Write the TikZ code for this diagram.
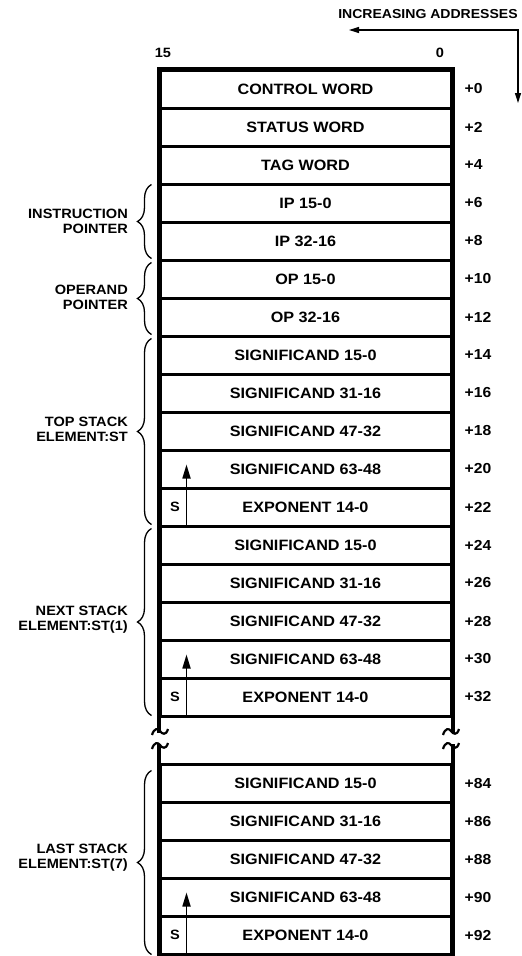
\documentclass[tikz,border=0pt]{standalone}
\usepackage{fontspec}
\setmainfont{Liberation Sans}[FakeStretch=1.08]
\usetikzlibrary{
  arrows.meta,
  decorations.pathreplacing
}

\begin{document}
\begin{tikzpicture}[
    x=1pt, y=-1pt,
    >={Triangle[length=10pt,width=6pt]},
    font=\bfseries\fontsize{13.5}{15}\selectfont,
    row/.style={draw, line width=3pt, minimum width=291pt,
      minimum height=38pt, inner sep=0pt,
      font=\bfseries\fontsize{15}{17}\selectfont},
    offs/.style={anchor=west, inner sep=0pt,
      font=\bfseries\fontsize{14.5}{17}\selectfont},
    lbl/.style={anchor=east, align=right, inner sep=0pt},
    frame/.style={line width=4pt},
    cut/.style={line width=2.2pt},
    brc/.style={decorate, decoration={brace, amplitude=14pt},
      line width=1.3pt},
    sarr/.style={line width=1.7pt,
      -{Triangle[length=14pt,width=8pt]}}
    ]

    \useasboundingbox (0,0) rectangle (522,956);

    % direction
    \node (inc) at (428,14) {\fontsize{13}{15}\selectfont INCREASING ADDRESSES};
    \coordinate (lt) at (349,30);
    \coordinate (corner) at (518,30);
    \coordinate (dn) at (518,103);
    \draw[line width=1.3pt, <->] (lt) -- (corner) -- (dn);

    % bit numbers
    \node (b15) at (163,53) {15};
    \node (b0) at (440,53) {0};

    % header words
    \node[row] (cw) at (305.5,89) {CONTROL WORD};
    \node[row] (sw) at (305.5,127) {STATUS WORD};
    \node[row] (tw) at (305.5,165) {TAG WORD};
    \node[row] (ip1) at (305.5,203) {IP 15-0};
    \node[row] (ip2) at (305.5,241) {IP 32-16};
    \node[row] (op1) at (305.5,279) {OP 15-0};
    \node[row] (op2) at (305.5,317) {OP 32-16};

    % top stack element
    \node[row] (a1) at (305.5,355) {SIGNIFICAND 15-0};
    \node[row] (a2) at (305.5,393) {SIGNIFICAND 31-16};
    \node[row] (a3) at (305.5,431) {SIGNIFICAND 47-32};
    \node[row] (a4) at (305.5,469) {SIGNIFICAND 63-48};
    \node[row] (a5) at (305.5,507) {EXPONENT 14-0};

    % next stack element
    \node[row] (b1) at (305.5,545) {SIGNIFICAND 15-0};
    \node[row] (b2) at (305.5,583) {SIGNIFICAND 31-16};
    \node[row] (b3) at (305.5,621) {SIGNIFICAND 47-32};
    \node[row] (b4) at (305.5,659) {SIGNIFICAND 63-48};
    \node[row] (b5) at (305.5,697) {EXPONENT 14-0};

    % last stack element
    \node[row] (c1) at (305.5,783) {SIGNIFICAND 15-0};
    \node[row] (c2) at (305.5,821) {SIGNIFICAND 31-16};
    \node[row] (c3) at (305.5,859) {SIGNIFICAND 47-32};
    \node[row] (c4) at (305.5,897) {SIGNIFICAND 63-48};
    \node[row] (c5) at (305.5,935) {EXPONENT 14-0};

    % outline
    \draw[frame] ([yshift=-15pt]b5.south west) -- (cw.north west)
      -- (cw.north east) -- ([yshift=-15pt]b5.south east);
    \draw[frame] ([yshift=19pt]c1.north west) -- (c5.south west)
      -- (c5.south east) -- ([yshift=19pt]c1.north east);

    % break marks
    \draw[cut] (152,735) .. controls (154,728) and (158,728) .. (160,731)
      .. controls (162,734) and (166,736) .. (168,729);
    \draw[cut] (152,749) .. controls (154,742) and (158,742) .. (160,745)
      .. controls (162,748) and (166,750) .. (168,743);
    \draw[cut] (443,735) .. controls (445,728) and (449,728) .. (451,731)
      .. controls (453,734) and (457,736) .. (459,729);
    \draw[cut] (443,749) .. controls (445,742) and (449,742) .. (451,745)
      .. controls (453,748) and (457,750) .. (459,743);

    % sign bits
    \node (sa) at (175,507) {S};
    \node (sb) at (175,697) {S};
    \node (sc) at (175,935) {S};
    \draw[sarr] ([xshift=28pt]a5.south west) -- ([shift={(28pt,-16pt)}]a4.north west);
    \draw[sarr] ([xshift=28pt]b5.south west) -- ([shift={(28pt,-16pt)}]b4.north west);
    \draw[sarr] ([xshift=28pt]c5.south west) -- ([shift={(28pt,-16pt)}]c4.north west);

    % offsets
    \node[offs] (o0) at ([xshift=12pt]cw.east) {+0};
    \node[offs] (o2) at ([xshift=12pt]sw.east) {+2};
    \node[offs] (o4) at ([xshift=12pt]tw.east) {+4};
    \node[offs] (o6) at ([xshift=12pt]ip1.east) {+6};
    \node[offs] (o8) at ([xshift=12pt]ip2.east) {+8};
    \node[offs] (o10) at ([xshift=12pt]op1.east) {+10};
    \node[offs] (o12) at ([xshift=12pt]op2.east) {+12};
    \node[offs] (o14) at ([xshift=12pt]a1.east) {+14};
    \node[offs] (o16) at ([xshift=12pt]a2.east) {+16};
    \node[offs] (o18) at ([xshift=12pt]a3.east) {+18};
    \node[offs] (o20) at ([xshift=12pt]a4.east) {+20};
    \node[offs] (o22) at ([xshift=12pt]a5.east) {+22};
    \node[offs] (o24) at ([xshift=12pt]b1.east) {+24};
    \node[offs] (o26) at ([xshift=12pt]b2.east) {+26};
    \node[offs] (o28) at ([xshift=12pt]b3.east) {+28};
    \node[offs] (o30) at ([xshift=12pt]b4.east) {+30};
    \node[offs] (o32) at ([xshift=12pt]b5.east) {+32};
    \node[offs] (o84) at ([xshift=12pt]c1.east) {+84};
    \node[offs] (o86) at ([xshift=12pt]c2.east) {+86};
    \node[offs] (o88) at ([xshift=12pt]c3.east) {+88};
    \node[offs] (o90) at ([xshift=12pt]c4.east) {+90};
    \node[offs] (o92) at ([xshift=12pt]c5.east) {+92};

    % braces
    \draw[brc] ([shift={(-7pt,3pt)}]ip2.south west) -- ([shift={(-7pt,-2pt)}]ip1.north west);
    \draw[brc] ([shift={(-7pt,3pt)}]op2.south west) -- ([shift={(-7pt,-4pt)}]op1.north west);
    \draw[brc] ([shift={(-7pt,3pt)}]a5.south west) -- ([shift={(-7pt,-4pt)}]a1.north west);
    \draw[brc] ([shift={(-7pt,2pt)}]b5.south west) -- ([shift={(-7pt,-4pt)}]b1.north west);
    \draw[brc] ([shift={(-7pt,1pt)}]c5.south west) -- ([shift={(-7pt,-8pt)}]c1.north west);

    \node[lbl] (ipl) at (128,221) {INSTRUCTION\\POINTER};
    \node[lbl] (opl) at (128,297) {OPERAND\\POINTER};
    \node[lbl] (tsl) at (128,429) {TOP STACK\\ELEMENT:ST};
    \node[lbl] (nsl) at (128,620) {NEXT STACK\\ELEMENT:ST(1)};
    \node[lbl] (lsl) at (128,858) {LAST STACK\\ELEMENT:ST(7)};

\end{tikzpicture}
\end{document}
